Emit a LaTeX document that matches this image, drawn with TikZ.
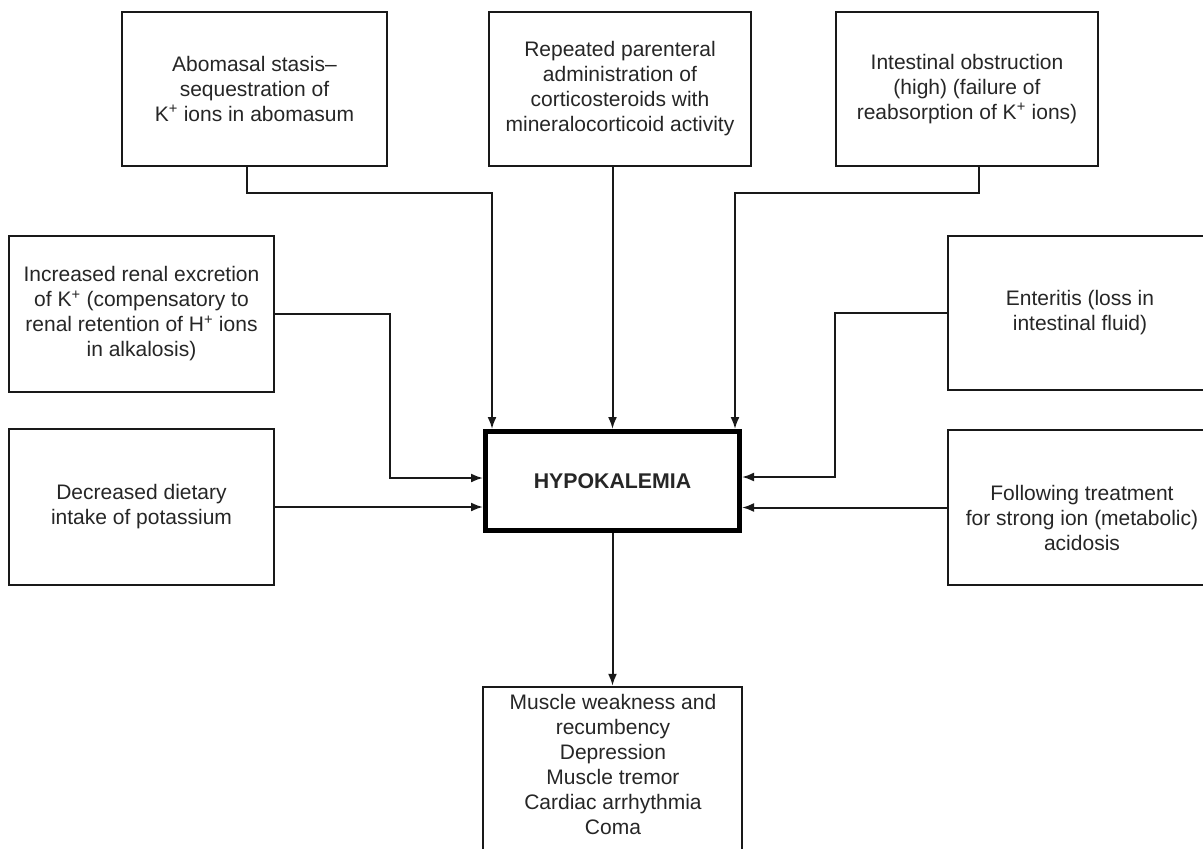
\documentclass[tikz,border=0pt]{standalone}
\usepackage{fontspec}
\setmainfont{Liberation Sans}
\usetikzlibrary{arrows.meta}
\tikzset{
  box/.style={draw=black!90, line width=2.4pt, inner sep=0pt, align=center,
    font=\fontsize{21}{25}\selectfont, text=black!85},
  boxtext/.style={inner sep=0pt, align=center,
    font=\fontsize{21}{25}\selectfont, text=black!85},
  hypobox/.style={draw=black, line width=5pt, inner sep=0pt, align=center,
    font=\fontsize{21.3}{25}\selectfont\bfseries, text=black!85},
  arr/.style={draw=black!90, line width=2pt, -{Latex[length=12pt,width=9pt]}}
}
\newcommand{\Kp}{K\textsuperscript{+}}
\newcommand{\Hp}{H\textsuperscript{+}}
\begin{document}
\begin{tikzpicture}[x=1pt,y=-1pt]
\useasboundingbox (0,0) rectangle (1203,849);
\clip (0,0) rectangle (1203,849);
\fill[white] (0,0) rectangle (1203,849);

\node[box, minimum width=265pt, minimum height=154pt] (tl) at (254.5,89)
  {Abomasal stasis–\\sequestration of\\\Kp{} ions in abomasum};
\node[box, minimum width=262pt, minimum height=154pt] (tc) at (620,89)
  {Repeated parenteral\\administration of\\corticosteroids with\\mineralocorticoid activity};
\node[box, minimum width=262pt, minimum height=154pt] (tr) at (967,89)
  {Intestinal obstruction\\(high) (failure of\\reabsorption of \Kp{} ions)};
\node[box, minimum width=265pt, minimum height=156pt] (lm) at (141.5,314)
  {Increased renal excretion\\of \Kp{} (compensatory to\\renal retention of \Hp{} ions\\in alkalosis)};
\node[box, minimum width=265pt, minimum height=156pt] (ll) at (141.5,507)
  {Decreased dietary\\intake of potassium};
\node[box, minimum width=264pt, minimum height=154pt] (rm) at (1080,313)
  {Enteritis (loss in\\intestinal fluid)};
\node[box, minimum width=264pt, minimum height=155pt] (rl) at (1080,507.5) {};
\node[boxtext] (rltext) at (1082,518)
  {Following treatment\\for strong ion (metabolic)\\acidosis};
\node[hypobox, minimum width=254pt, minimum height=99pt] (hypo) at (612.5,481)
  {HYPOKALEMIA};
\node[box, minimum width=259pt, minimum height=182pt] (bot) at (612.5,778) {};
\node[boxtext, anchor=north] (bottext) at (613,694)
  {Muscle weakness and\\recumbency\\Depression\\Muscle tremor\\Cardiac arrhythmia\\Coma};

% top connectors
\draw[arr] ([xshift=-7.5pt]tl.south) -- ++(0,26) -| ([xshift=-120.5pt]hypo.north);
\draw[arr] (tc.south -| hypo.north) -- (hypo.north);
\draw[arr] ([xshift=12pt]tr.south) -- ++(0,26) -| ([xshift=122.5pt]hypo.north);
% left connectors
\draw[arr] (lm.east) -- ++(115,0) |- ([yshift=3pt]hypo.west);
\draw[arr] (ll.east) -- (ll.east -| hypo.west);
% right connectors
\draw[arr] (rm.west) -- ++(-112,0) |- ([yshift=4pt]hypo.east);
\draw[arr] (rl.west) -- (rl.west -| hypo.east);
% bottom
\draw[arr] (hypo.south) -- (bot.north);
\end{tikzpicture}
\end{document}
